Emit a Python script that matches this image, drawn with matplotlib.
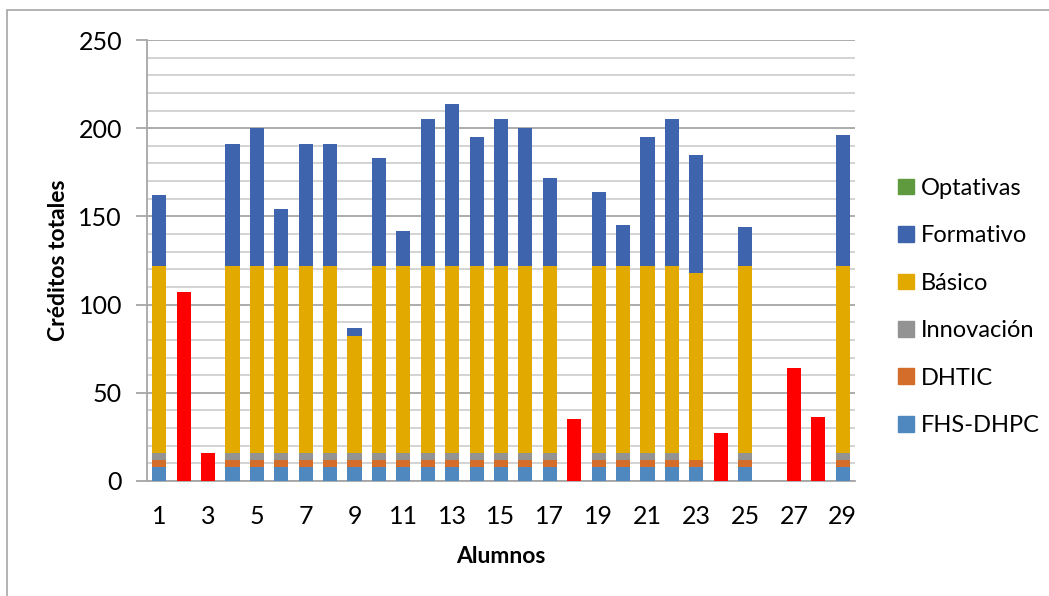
import matplotlib.pyplot as plt
import matplotlib.patches as mpatches
import numpy as np

alumnos = list(range(1, 30))
fhs_dhpc = [8, 0, 0, 8, 8, 8, 8, 8, 8, 8, 8, 8, 8, 8, 8, 8, 8, 0, 8, 8, 8, 8, 8, 0, 8, 0, 0, 0, 8]
dhtic = [4, 0, 0, 4, 4, 4, 4, 4, 4, 4, 4, 4, 4, 4, 4, 4, 4, 0, 4, 4, 4, 4, 4, 0, 4, 0, 0, 0, 4]
innovacion = [4, 0, 0, 4, 4, 4, 4, 4, 4, 4, 4, 4, 4, 4, 4, 4, 4, 0, 4, 4, 4, 4, 0, 0, 4, 0, 0, 0, 4]
basico = [106, 0, 0, 106, 106, 106, 106, 106, 66, 106, 106, 106, 106, 106, 106, 106, 106, 0,
          106, 106, 106, 106, 106, 0, 106, 0, 0, 0, 106]
formativo = [40, 0, 0, 69, 78, 32, 69, 69, 5, 61, 20, 83, 92, 73, 83, 78, 50, 0,
             42, 23, 73, 83, 67, 0, 22, 0, 0, 0, 74]
optativas = [0] * 29
# alumnos sin desglose (barra roja)
sin_desglose = [0, 107, 16, 0, 0, 0, 0, 0, 0, 0, 0, 0, 0, 0, 0, 0, 0, 35,
                0, 0, 0, 0, 0, 27, 0, 0, 64, 36, 0]

series = [
    ('FHS-DHPC', fhs_dhpc, '#4F88BF'),
    ('DHTIC', dhtic, '#D46C2A'),
    ('Innovación', innovacion, '#939393'),
    ('Básico', basico, '#E2AA00'),
    ('Formativo', formativo, '#3D64AD'),
    ('Optativas', optativas, '#5F9B3E'),
]

plt.rcParams['font.family'] = ['Lato', 'DejaVu Sans']

fig = plt.figure(figsize=(10.49, 5.96), dpi=100)
ax = fig.add_axes([147 / 1049, 1 - 481 / 596, (855 - 147) / 1049, (481 - 40) / 596])

x = np.array(alumnos)
w = 0.58
bottom = np.zeros(len(x))
handles = {}
for name, vals, col in series:
    v = np.array(vals, dtype=float)
    ax.bar(x, v, w, bottom=bottom, color=col, zorder=3, linewidth=0)
    handles[name] = mpatches.Patch(color=col, label=name)
    bottom += v
ax.bar(x, sin_desglose, w, color='#FF0000', zorder=3, linewidth=0)

ax.set_xlim(0.5, 29.5)
ax.set_ylim(0, 250)
ax.set_yticks(range(0, 251, 50))
ax.set_yticks(range(0, 251, 10), minor=True)
ax.set_xticks(range(1, 30, 2))
ax.grid(axis='y', which='minor', color='#D0D0D0', linewidth=1.3, zorder=0)
ax.grid(axis='y', which='major', color='#A6A6A6', linewidth=1.3, zorder=1)
ax.tick_params(axis='y', which='major', length=8, width=1.3, color='#A6A6A6',
               labelsize=18, pad=10)
ax.tick_params(axis='y', which='minor', length=0)
ax.tick_params(axis='x', length=0, labelsize=18, pad=17)

for s in ['top', 'right']:
    ax.spines[s].set_visible(False)
for s in ['left', 'bottom']:
    ax.spines[s].set_color('#A6A6A6')
    ax.spines[s].set_linewidth(1.3)

ax.set_xlabel('Alumnos', fontsize=16.5, fontweight='bold', labelpad=13)
ax.set_ylabel('Créditos totales', fontsize=16.5, fontweight='bold', labelpad=7)

order = ['Optativas', 'Formativo', 'Básico', 'Innovación', 'DHTIC', 'FHS-DHPC']
fig.legend([handles[n] for n in order], order, loc='center left',
           bbox_to_anchor=(877 / 1049, 1 - 307 / 596), frameon=False,
           fontsize=17, handlelength=0.65, handleheight=0.65,
           handletextpad=0.3, labelspacing=1.12)

# borde del área del gráfico
fig.patches.append(mpatches.Rectangle((7 / 1049, -0.05), 1.1, 1 - 10 / 596 + 0.05,
                                      transform=fig.transFigure, fill=False,
                                      edgecolor='#A6A6A6', linewidth=1.2))

fig.savefig('out.png', dpi=100)
